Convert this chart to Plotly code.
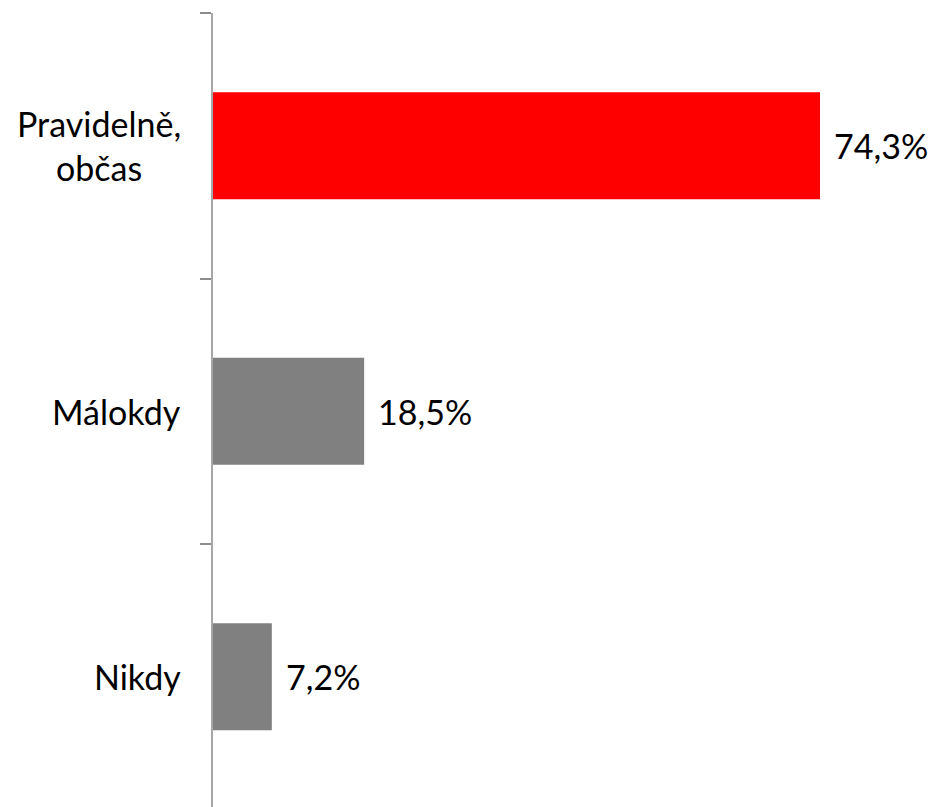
import plotly.graph_objects as go

# Survey answers and their shares (percent)
categories = ["Pravidelně,<br>občas", "Málokdy", "Nikdy"]
shares = [74.3, 18.5, 7.2]
bar_colors = ["#FF0000", "#808080", "#808080"]

FONT = "Lato"
FONT_SIZE = 34

def fmt(v):
    return f"{v:.1f}".replace(".", ",") + "%"

fig = go.Figure(
    go.Bar(
        x=shares,
        y=categories,
        orientation="h",
        width=0.403,
        marker=dict(color=bar_colors, line=dict(width=0)),
        hoverinfo="skip",
    )
)

annotations = []
for cat, v in zip(categories, shares):
    # value label to the right of each bar
    annotations.append(dict(
        x=v, y=cat, xref="x", yref="y", text=fmt(v),
        showarrow=False, xanchor="left", yanchor="middle", xshift=12,
        font=dict(family=FONT, size=FONT_SIZE, color="black"),
    ))
    # category label, block right-aligned, lines centred
    annotations.append(dict(
        x=0, y=cat, xref="paper", yref="y", text=cat,
        showarrow=False, xanchor="right", yanchor="middle", xshift=-30,
        align="center",
        font=dict(family=FONT, size=FONT_SIZE, color="black"),
    ))

fig.update_layout(
    width=929, height=807,
    margin=dict(l=213, r=0, t=13, b=0),
    paper_bgcolor="white", plot_bgcolor="white",
    showlegend=False,
    annotations=annotations,
    xaxis=dict(visible=False, range=[0, 716 / 8.17], fixedrange=True),
    yaxis=dict(
        type="category",
        categoryorder="array", categoryarray=categories,
        range=[2.4906, -0.5],
        showticklabels=False,
        showgrid=False, zeroline=False,
        showline=True, linecolor="#A6A6A6", linewidth=2,
        ticks="outside", tickson="boundaries", ticklen=11,
        tickcolor="#8C8C8C", tickwidth=1.5,
        fixedrange=True,
    ),
)

fig.write_html("out.html")
